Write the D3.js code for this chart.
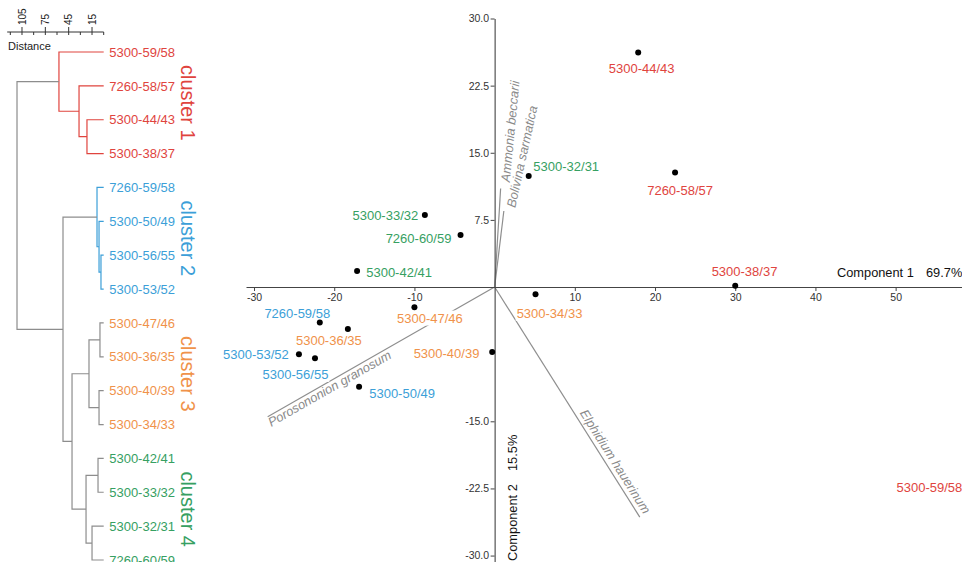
<!DOCTYPE html>
<html>
<head>
<meta charset="utf-8">
<script src="https://cdn.jsdelivr.net/npm/d3@7"></script>
<style>
  html, body { margin: 0; padding: 0; background: #fff; }
  svg { display: block; font-family: "Liberation Sans", Arial, Helvetica, sans-serif; }
</style>
</head>
<body>
<svg id="chart" width="962" height="562"></svg>
<script>
// ---- Cluster analysis (dendrogram) ----
// Samples in dendrogram leaf order
const leafNames = ["5300-59/58", "7260-58/57", "5300-44/43", "5300-38/37",
                   "7260-59/58", "5300-50/49", "5300-56/55", "5300-53/52",
                   "5300-47/46", "5300-36/35", "5300-40/39", "5300-34/33",
                   "5300-42/41", "5300-33/32", "5300-32/31", "7260-60/59"];
const leafCluster = [1, 1, 1, 1, 2, 2, 2, 2, 3, 3, 3, 3, 4, 4, 4, 4];
// Agglomeration steps [childA, childB, distance]; index >= 16 refers to an earlier step
const merges = [
  [6, 7, 3.5],
  [8, 9, 4.8],
  [10, 11, 6.0],
  [5, 16, 6.0],
  [12, 13, 7.3],
  [4, 19, 8.6],
  [14, 15, 15.0],
  [17, 18, 18.9],
  [2, 3, 21.5],
  [20, 22, 22.7],
  [1, 24, 31.7],
  [23, 25, 40.7],
  [21, 27, 52.3],
  [0, 26, 57.5],
  [29, 28, 111.4]
];
const clusterNames = ["cluster 1", "cluster 2", "cluster 3", "cluster 4"];
const distanceTicks = [0, 15, 30, 45, 60, 75, 90, 105, 120];
const distanceTickLabels = [105, 75, 45, 15];
const distanceTitle = "Distance";

// ---- Principal component analysis (biplot) ----
const pcaSamples = leafNames;
const pc1 = [59.2, 22.5, 17.9, 30.0, -21.8, -16.9, -22.4, -24.4,
             -10.0, -18.3, -0.3, 5.1, -17.15, -8.7, 4.25, -4.25];
const pc2 = [-22.35, 12.8, 26.2, 0.15, -3.95, -11.15, -7.95, -7.5,
             -2.25, -4.7, -7.25, -0.8, 1.8, 8.05, 12.4, 5.8];
const speciesNames = ["Ammonia beccarii", "Bolivina sarmatica", "Porosononion granosum", "Elphidium hauerinum"];
const loading1 = [0.75, 1.15, -28.3, 18.1];
const loading2 = [11.0, 8.5, -14.5, -25.7];
const pc1Ticks = [-30, -20, -10, 10, 20, 30, 40, 50];
const pc2Ticks = [-30, -22.5, -15, 7.5, 15, 22.5, 30];
const pc1Title = "Component 1", pc1Share = "69.7%";
const pc2Title = "Component 2", pc2Share = "15.5%";

// ---- Styles ----
const clusterColor = { 1: "#e0443e", 2: "#3c9fd8", 3: "#f0924a", 4: "#36a062" };
const linkColor = { 1: "#e0443e", 2: "#3c9fd8", 3: "#8d8d8d", 4: "#8d8d8d" };
const greyLink = "#8d8d8d";
const axisColor = "#444";

const svg = d3.select("#chart");

// ================= Dendrogram =================
const dend = svg.append("g");
const yLeaf = d3.scalePoint().domain(leafNames).range([52, 560]);
const xDist = d3.scaleLinear().domain([0, 124]).range([103.7, 7.2]);

const nodes = leafNames.map((name, i) => ({ name, h: 0, leaves: [i] }));
merges.forEach(([a, b, h]) => {
  nodes.push({ children: [nodes[a], nodes[b]], h, leaves: nodes[a].leaves.concat(nodes[b].leaves) });
});
const root = nodes[nodes.length - 1];
function placeY(n) {
  if (!n.children) { n.y = yLeaf(n.name); return; }
  n.children.forEach(placeY);
  n.y = (n.children[0].y + n.children[1].y) / 2;
}
placeY(root);
function nodeCluster(n) {
  const cs = new Set(n.leaves.map(i => leafCluster[i]));
  return cs.size === 1 ? [...cs][0] : null;
}

// One elbow link per merge, coloured when the merge lies inside a cluster
nodes.filter(n => n.children).forEach(n => {
  const c = nodeCluster(n);
  const col = c ? linkColor[c] : greyLink;
  const [a, b] = n.children;
  dend.append("path")
    .attr("d", `M${xDist(a.h)},${a.y}H${xDist(n.h)}V${b.y}H${xDist(b.h)}`)
    .attr("fill", "none")
    .attr("stroke", col)
    .attr("stroke-width", 1.2);
});

// Leaf labels
dend.selectAll("text.leaf").data(leafNames).join("text")
  .attr("class", "leaf")
  .attr("x", xDist(0) + 5.5)
  .attr("y", d => yLeaf(d))
  .attr("dy", "0.36em")
  .attr("font-size", 13)
  .attr("fill", (d, i) => clusterColor[leafCluster[i]])
  .text(d => d);

// Cluster names, rotated alongside their members
clusterNames.forEach((name, k) => {
  const ys = leafNames.filter((d, i) => leafCluster[i] === k + 1).map(d => yLeaf(d));
  const cy = d3.mean(ys);
  dend.append("text")
    .attr("transform", `translate(180.5,${cy}) rotate(90)`)
    .attr("text-anchor", "middle")
    .attr("font-size", 20)
    .attr("fill", clusterColor[k + 1])
    .text(name);
});

// Distance axis
const axY = 32;
dend.append("line")
  .attr("x1", xDist(124)).attr("x2", xDist(0))
  .attr("y1", axY).attr("y2", axY)
  .attr("stroke", "#333").attr("stroke-width", 1);
dend.selectAll("line.dtick").data(distanceTicks).join("line")
  .attr("class", "dtick")
  .attr("x1", d => xDist(d)).attr("x2", d => xDist(d))
  .attr("y1", d => distanceTickLabels.includes(d) ? axY - 5 : axY)
  .attr("y2", axY + 3)
  .attr("stroke", "#333").attr("stroke-width", 1);
dend.selectAll("text.dlab").data(distanceTickLabels).join("text")
  .attr("class", "dlab")
  .attr("transform", d => `translate(${xDist(d) + 3.6},${axY - 7}) rotate(-90)`)
  .attr("font-size", 10)
  .attr("fill", "#222")
  .text(d => d);
dend.append("text")
  .attr("x", 8).attr("y", 50)
  .attr("font-size", 11)
  .attr("fill", "#222")
  .text(distanceTitle);

// ================= PCA biplot =================
const pca = svg.append("g");
const x = d3.scaleLinear().domain([-31, 58.4]).range([246, 963]);
const y = d3.scaleLinear().domain([-31.5, 30]).range([569, 18.5]);

// Species vectors
const vecG = pca.append("g");
speciesNames.forEach((name, i) => {
  vecG.append("line")
    .attr("x1", x(0)).attr("y1", y(0))
    .attr("x2", x(loading1[i])).attr("y2", y(loading2[i]))
    .attr("stroke", "#8e8e8e").attr("stroke-width", 1.2);
});
// Label placement along each vector: anchor, along-line shift, offset from line, extra tilt
const vecLabelPlace = {
  "Ammonia beccarii":       { anchor: "start", dx: 7, dy: 8.5, rot: 2 },
  "Bolivina sarmatica":     { anchor: "start", dx: 5, dy: 10.5, rot: 5.5 },
  "Porosononion granosum":  { anchor: "start", dx: -2, dy: 10.5, rot: 0 },
  "Elphidium hauerinum":    { anchor: "end", dx: 0, dy: -4.5, rot: 0 }
};
speciesNames.forEach((name, i) => {
  const ex = x(loading1[i]), ey = y(loading2[i]);
  let ang = Math.atan2(ey - y(0), ex - x(0)) * 180 / Math.PI;
  if (ang > 90) ang -= 180;
  if (ang < -90) ang += 180;
  const p = vecLabelPlace[name];
  vecG.append("text")
    .attr("transform", `translate(${ex},${ey}) rotate(${ang + p.rot})`)
    .attr("text-anchor", p.anchor)
    .attr("dx", p.dx).attr("dy", p.dy)
    .attr("font-size", 12.8)
    .attr("font-style", "italic")
    .attr("fill", "#8a8a8a")
    .text(name);
});

// Axes through the origin
const fmt1 = d => String(d);
const fmt2 = d => d.toFixed(1);
const xAxisG = pca.append("g")
  .attr("transform", `translate(0,${y(0)})`)
  .call(d3.axisBottom(x).tickValues(pc1Ticks).tickFormat(fmt1).tickSize(4).tickSizeOuter(0).tickPadding(3));
const yAxisG = pca.append("g")
  .attr("transform", `translate(${x(0)},0)`)
  .call(d3.axisLeft(y).tickValues(pc2Ticks).tickFormat(fmt2).tickSize(4).tickSizeOuter(0).tickPadding(1.5));
[xAxisG, yAxisG].forEach(g => {
  g.attr("font-family", null).attr("font-size", 10.5);
  g.select(".domain").attr("stroke", axisColor).attr("stroke-width", 1.1);
  g.selectAll(".tick line").attr("stroke", axisColor);
  g.selectAll(".tick text").attr("fill", "#333");
});

// Axis titles
pca.append("text")
  .attr("x", 837).attr("y", y(0) - 10.5)
  .attr("font-size", 12.8).attr("fill", "#111")
  .text(pc1Title);
pca.append("text")
  .attr("x", 926).attr("y", y(0) - 10.5)
  .attr("font-size", 12.8).attr("fill", "#111")
  .text(pc1Share);
pca.append("text")
  .attr("transform", `translate(${x(0) + 22},561) rotate(-90)`)
  .attr("font-size", 12.8).attr("fill", "#111")
  .text(pc2Title);
pca.append("text")
  .attr("transform", `translate(${x(0) + 22},471) rotate(-90)`)
  .attr("font-size", 12.8).attr("fill", "#111")
  .text(pc2Share);

// Sample labels with a white backing, then the score points
const labelOffset = {
  "5300-59/58": [-40, 0],    "7260-58/57": [5, 17.7],   "5300-44/43": [3.5, 15.6],
  "5300-38/37": [9.3, -14],  "7260-59/58": [-22.5, -9], "5300-50/49": [43, 6],
  "5300-56/55": [-19.5, 16], "5300-53/52": [-43, 0],    "5300-47/46": [15.5, 10.7],
  "5300-36/35": [-19, 11.7], "5300-40/39": [-45.7, 1],  "5300-34/33": [14, 19],
  "5300-42/41": [42, 1.3],   "5300-33/32": [-39.5, 0],  "5300-32/31": [37.5, -10],
  "7260-60/59": [-42, 3]
};
const clusterOf = new Map(leafNames.map((d, i) => [d, leafCluster[i]]));
const labG = pca.append("g");
pcaSamples.forEach((name, i) => {
  const off = labelOffset[name];
  const g = labG.append("g");
  const t = g.append("text")
    .attr("x", x(pc1[i]) + off[0])
    .attr("y", y(pc2[i]) + off[1])
    .attr("dy", "0.36em")
    .attr("text-anchor", "middle")
    .attr("font-size", 13)
    .attr("fill", clusterColor[clusterOf.get(name)])
    .text(name);
  const bb = t.node().getBBox();
  g.insert("rect", "text")
    .attr("x", bb.x - 1).attr("y", bb.y)
    .attr("width", bb.width + 2).attr("height", bb.height)
    .attr("fill", "#fff");
});
pca.append("g").selectAll("circle").data(pcaSamples).join("circle")
  .attr("cx", (d, i) => x(pc1[i]))
  .attr("cy", (d, i) => y(pc2[i]))
  .attr("r", 3)
  .attr("fill", "#000");
</script>
</body>
</html>
